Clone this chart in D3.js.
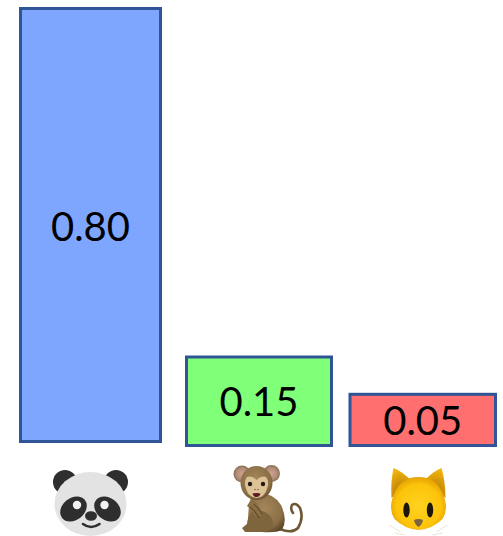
<!DOCTYPE html>
<html>
<head>
<meta charset="utf-8">
<script src="https://cdn.jsdelivr.net/npm/d3@7"></script>
<style>
  html, body { margin: 0; padding: 0; background: #fff; }
  svg { display: block; }
  text { font-family: Lato, "Open Sans", sans-serif; }
</style>
</head>
<body>
<svg id="chart" width="503" height="536"></svg>
<script>
// Class probabilities shown as a hand-laid bar diagram.
const categories = ["panda", "monkey", "cat"];
const probabilities = [0.80, 0.15, 0.05];
const valueLabels = ["0.80", "0.15", "0.05"];
const fills = ["#7ea6ff", "#80ff78", "#ff6f6f"];

const svg = d3.select("#chart");
const defs = svg.append("defs");

// The diagram is schematic: bar height follows probability piecewise, not proportionally.
const yTop = d3.scaleLinear().domain([0.05, 0.15, 0.80]).range([394.3, 357, 8.5]);
const barLeft = d3.scaleOrdinal().domain(categories).range([20.5, 186.5, 350]);
const barRight = d3.scaleOrdinal().domain(categories).range([160.5, 331.5, 495.5]);
const barBottom = d3.scaleOrdinal().domain(categories).range([441.5, 445.5, 445.5]);
const labelY = d3.scaleOrdinal().domain(categories).range([227, 402, 421]);

const rows = categories.map((c, i) => ({
  name: c, p: probabilities[i], label: valueLabels[i], fill: fills[i]
}));

const bars = svg.append("g").selectAll("g").data(rows).join("g");

bars.append("rect")
  .attr("x", d => barLeft(d.name))
  .attr("y", d => yTop(d.p))
  .attr("width", d => barRight(d.name) - barLeft(d.name))
  .attr("height", d => barBottom(d.name) - yTop(d.p))
  .attr("fill", d => d.fill)
  .attr("stroke", "#2f5597")
  .attr("stroke-width", 3);

bars.append("text")
  .attr("x", d => (barLeft(d.name) + barRight(d.name)) / 2)
  .attr("y", d => labelY(d.name))
  .attr("dy", "0.36em")
  .attr("text-anchor", "middle")
  .attr("font-size", 40)
  .attr("fill", "#000")
  .text(d => d.label);

// Gradients for the pictograms under the bars.
function radial(id, stops, cx = "45%", cy = "40%", r = "65%") {
  const g = defs.append("radialGradient").attr("id", id)
    .attr("cx", cx).attr("cy", cy).attr("r", r);
  stops.forEach(([o, c]) => g.append("stop").attr("offset", o).attr("stop-color", c));
}
radial("catFace", [["0%", "#ffd21f"], ["70%", "#fcc40a"], ["100%", "#e09a00"]], "50%", "55%", "58%");
radial("catEar", [["0%", "#a86f0a"], ["100%", "#f2b30c"]], "50%", "90%", "85%");
radial("monkeyFur", [["0%", "#a5875a"], ["75%", "#8a6e45"], ["100%", "#5f4a2c"]]);
radial("monkeyEar", [["0%", "#d0a192"], ["60%", "#b08d78"], ["100%", "#7d6647"]], "50%", "50%", "55%");

// Panda head
const panda = svg.append("g").attr("class", "panda");
const ink = "#2e2e2e";
panda.append("circle").attr("cx", 65).attr("cy", 482).attr("r", 12).attr("fill", ink);
panda.append("circle").attr("cx", 116).attr("cy", 482).attr("r", 12).attr("fill", ink);
panda.append("ellipse").attr("cx", 90.5).attr("cy", 504).attr("rx", 36).attr("ry", 32).attr("fill", "#e3e3e3");
panda.append("ellipse").attr("cx", 73.5).attr("cy", 509).attr("rx", 14.5).attr("ry", 11)
  .attr("transform", "rotate(-38 73.5 509)").attr("fill", ink);
panda.append("ellipse").attr("cx", 107.5).attr("cy", 509).attr("rx", 14.5).attr("ry", 11)
  .attr("transform", "rotate(38 107.5 509)").attr("fill", ink);
panda.append("circle").attr("cx", 77).attr("cy", 505).attr("r", 4.2).attr("fill", "#f2f2f2");
panda.append("circle").attr("cx", 104.5).attr("cy", 505).attr("r", 4.2).attr("fill", "#f2f2f2");
panda.append("ellipse").attr("cx", 91).attr("cy", 516).attr("rx", 6).attr("ry", 4.8).attr("fill", ink);
panda.append("path").attr("d", "M83 524 Q91 530 99.5 524")
  .attr("fill", "none").attr("stroke", ink).attr("stroke-width", 2.6).attr("stroke-linecap", "round");

// Seated monkey
const monkey = svg.append("g").attr("class", "monkey");
monkey.append("path")
  .attr("d", "M280 529 Q292 534 298 528 Q304 518 300 508 Q296 502 292 505 Q290 509 293 513")
  .attr("fill", "none").attr("stroke", "#6d5735").attr("stroke-width", 2.6).attr("stroke-linecap", "round");
monkey.append("path")
  .attr("d", "M252 494 Q272 490 281 505 Q288 520 282 530 Q276 533 262 532 L247 531 L249 505 Z")
  .attr("fill", "url(#monkeyFur)");
monkey.append("path")
  .attr("d", "M254 510 Q270 510 273 522 Q274 531 262 532 L245 532 L242 528 L247 524 Q248 515 254 510 Z")
  .attr("fill", "#7f653e");
monkey.append("path").attr("d", "M252 498 Q259 504 262 513 Q259 520 255 516 Q250 508 247 506 Z").attr("fill", "#8a6e45");
monkey.append("path").attr("d", "M250 507 Q255 510 259 518 M254 504 Q259 509 262 514").attr("fill", "none").attr("stroke", "#52401f").attr("stroke-width", 1);
monkey.append("circle").attr("cx", 242).attr("cy", 474).attr("r", 8.5).attr("fill", "url(#monkeyEar)");
monkey.append("circle").attr("cx", 271.5).attr("cy", 473.5).attr("r", 8.5).attr("fill", "url(#monkeyEar)");
monkey.append("ellipse").attr("cx", 256.5).attr("cy", 483).attr("rx", 16).attr("ry", 17).attr("fill", "url(#monkeyFur)");
monkey.append("path")
  .attr("d", "M256.5 480 Q261 475 266 477 Q270 482 266.5 490 Q264.5 497 256.5 498 Q248.5 497 246.5 490 Q243 482 247 477 Q252 475 256.5 480 Z")
  .attr("fill", "#dcc296");
monkey.append("circle").attr("cx", 250).attr("cy", 484).attr("r", 2.2).attr("fill", "#221a10");
monkey.append("circle").attr("cx", 263).attr("cy", 484).attr("r", 2.2).attr("fill", "#221a10");
monkey.append("path").attr("d", "M252.5 493.5 Q256.5 492.5 260.5 493.5 Q259.5 497 256.5 497 Q253.5 497 252.5 493.5 Z").attr("fill", "#5a1a20");
monkey.append("path").attr("d", "M254.5 489.5 h1.2 M257.5 489.5 h1.2").attr("stroke", "#5b4526").attr("stroke-width", 1.1);

// Cat face
const cat = svg.append("g").attr("class", "cat").attr("transform", "translate(-1.5 0)");
cat.append("path").attr("d", "M393 498 Q392 482 395 468 Q405 472 413 481 Z").attr("fill", "url(#catEar)");
cat.append("path").attr("d", "M447 498 Q447 482 443 468 Q433 472 426 481 Z").attr("fill", "url(#catEar)");
cat.append("path")
  .attr("d", "M420 477 Q438 477 444 493 Q451 508 444 519 Q434 529 420 530 Q406 529 396 519 Q389 508 396 493 Q402 477 420 477 Z")
  .attr("fill", "url(#catFace)");
cat.append("ellipse").attr("cx", 408).attr("cy", 510).attr("rx", 3.2).attr("ry", 7.5).attr("fill", "#1c1608");
cat.append("ellipse").attr("cx", 431.5).attr("cy", 510).attr("rx", 3.2).attr("ry", 7.5).attr("fill", "#1c1608");
cat.append("path").attr("d", "M415.5 520 Q420 518 424.5 520 Q423.5 525 420 527 Q416.5 525 415.5 520 Z").attr("fill", "#7b6342");
cat.append("path").attr("d", "M391 525 L402 532 M449 525 L438 532 M396 533 L406 535 M444 533 L434 535")
  .attr("stroke", "#e8e4d8").attr("stroke-width", 1).attr("fill", "none");
</script>
</body>
</html>
